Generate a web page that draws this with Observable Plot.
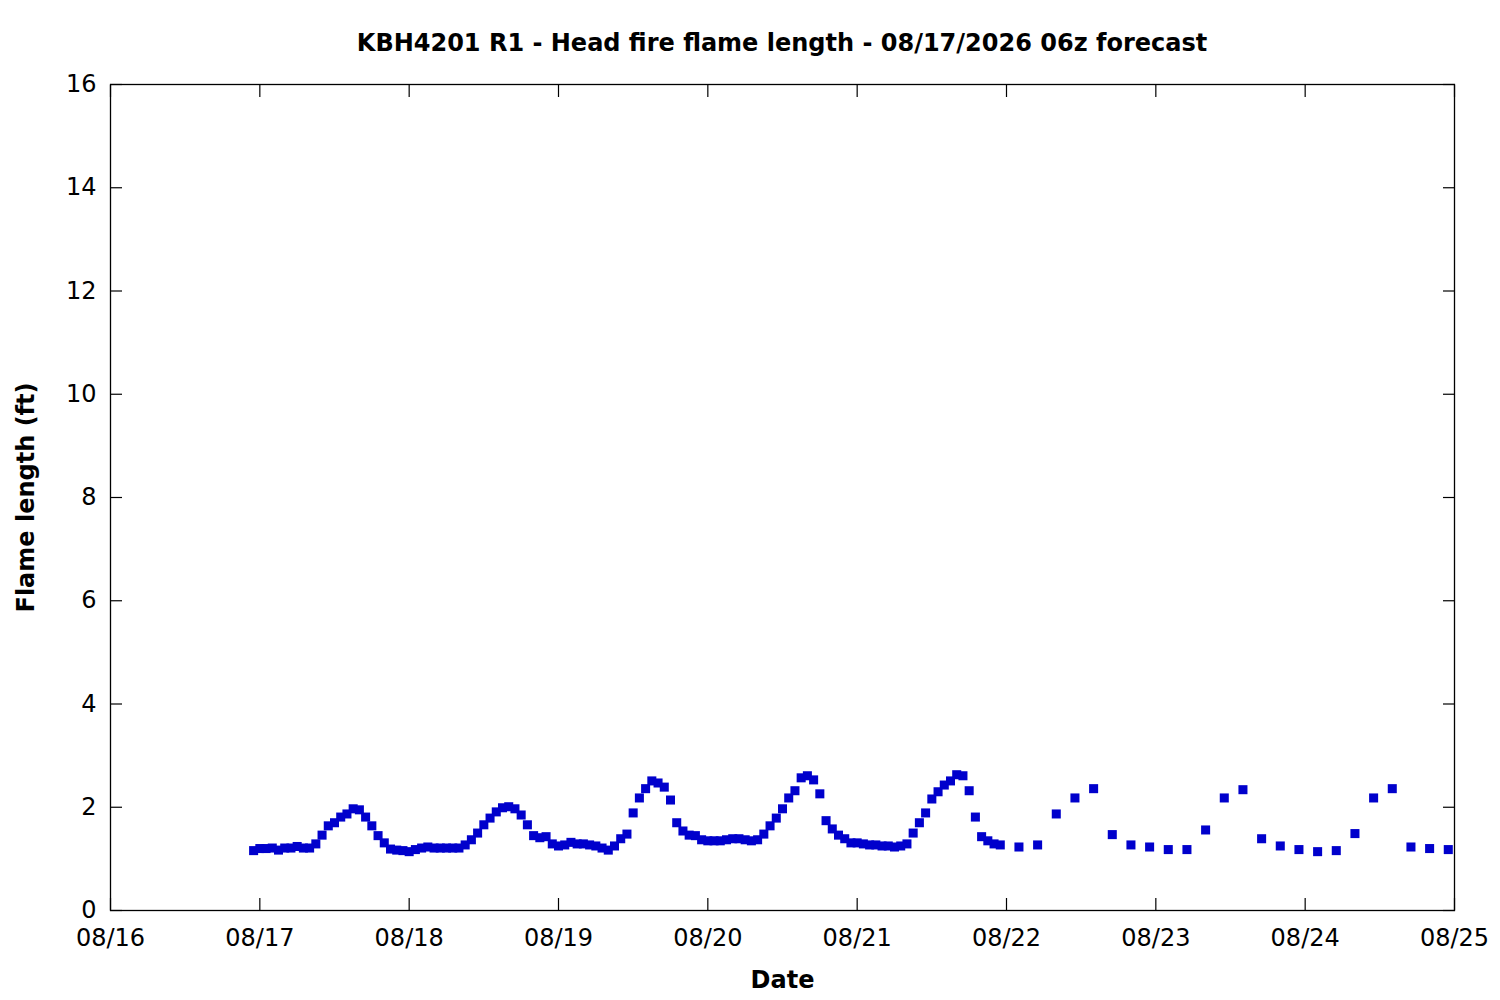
<!DOCTYPE html>
<html><head><meta charset="utf-8">
<script src="https://cdn.jsdelivr.net/npm/d3@7"></script>
<script src="https://cdn.jsdelivr.net/npm/@observablehq/plot@0.6"></script>
<style>
body{margin:0;background:#fff;font-family:"DejaVu Sans",sans-serif;}
#title{height:64px;box-sizing:border-box;padding:29px 46px 0 110px;text-align:center;font-weight:bold;font-size:24px;line-height:28px;color:#000;}
#chart svg{display:block;}
</style></head><body>
<div id="title">KBH4201 R1 - Head fire flame length - 08/17/2026 06z forecast</div>
<div id="chart"></div>
<script>
const titleText = "KBH4201 R1 - Head fire flame length - 08/17/2026 06z forecast";
const yLabel = "Flame length (ft)";
const xLabel = "Date";

// Hourly forecast: 08/16 23z through 08/21 23z
const hourlyStart = "2026-08-16T23:00:00Z";
const hourlyValues = [
  1.16,
  1.20,1.20,1.21,1.17,1.21,1.21,1.24,1.21,1.21,1.29,1.46,1.64,
  1.70,1.81,1.87,1.97,1.95,1.81,1.64,1.45,1.31,1.19,1.17,1.16,
  1.14,1.18,1.21,1.23,1.21,1.21,1.21,1.21,1.21,1.27,1.37,1.50,
  1.66,1.79,1.91,1.99,2.01,1.97,1.85,1.66,1.45,1.41,1.43,1.29,
  1.25,1.27,1.32,1.29,1.29,1.27,1.25,1.21,1.17,1.25,1.39,1.48,
  1.89,2.18,2.36,2.51,2.47,2.39,2.14,1.70,1.54,1.46,1.45,1.37,
  1.35,1.35,1.35,1.37,1.39,1.39,1.37,1.35,1.37,1.48,1.64,1.79,
  1.97,2.18,2.32,2.57,2.61,2.53,2.26,1.74,1.58,1.46,1.39,1.31,
  1.31,1.29,1.27,1.27,1.25,1.25,1.23,1.25,1.29,1.50,1.70,1.89,
  2.16,2.30,2.43,2.51,2.63,2.61,2.32,1.81,1.43,1.35,1.29,1.27
];
// 3-hourly forecast: 08/22 02z through 08/24 23z
const threeHourlyStart = "2026-08-22T02:00:00Z";
const threeHourlyValues = [
  1.23,1.27,1.87,2.18,2.36,1.47,1.27,1.23,
  1.18,1.18,1.56,2.18,2.34,1.39,1.25,1.18,
  1.14,1.16,1.49,2.18,2.36,1.23,1.20,1.18
];
const xTickLabels = ["08/16","08/17","08/18","08/19","08/20","08/21","08/22","08/23","08/24","08/25"];
const yTicks = [0,2,4,6,8,10,12,14,16];

const hourlyTimes = hourlyValues.map((_, i) => d3.utcHour.offset(new Date(hourlyStart), i));
const threeTimes = threeHourlyValues.map((_, i) => d3.utcHour.offset(new Date(threeHourlyStart), 3 * i));
const data = [
  ...hourlyValues.map((v, i) => ({time: hourlyTimes[i], value: v})),
  ...threeHourlyValues.map((v, i) => ({time: threeTimes[i], value: v}))
];
const xTicks = xTickLabels.map(s => new Date(`2026-${s.replace("/", "-")}T00:00:00Z`));
const fmt = d3.utcFormat("%m/%d");
const FS = 24;

const chart = Plot.plot({
  width: 1500,
  height: 936,
  marginTop: 20,
  marginBottom: 90,
  marginLeft: 110,
  marginRight: 46,
  style: {fontFamily: "DejaVu Sans, sans-serif", fontSize: FS + "px", color: "#000", background: "#fff"},
  x: {type: "utc", domain: [xTicks[0], xTicks[xTicks.length - 1]]},
  y: {domain: [0, 16]},
  marks: [
    Plot.frame({stroke: "#000", strokeWidth: 1.3}),
    Plot.axisX({anchor: "bottom", ticks: xTicks, tickSize: 0, tickPadding: 18, tickFormat: fmt, fontSize: FS, label: null}),
    Plot.axisX({anchor: "bottom", ticks: xTicks, tickSize: -12, tickFormat: () => "", label: null, strokeWidth: 1.2}),
    Plot.axisX({anchor: "top", ticks: xTicks, tickSize: -12, tickFormat: () => "", label: null, strokeWidth: 1.2}),
    Plot.axisY({anchor: "left", ticks: yTicks, tickSize: 0, tickPadding: 14, fontSize: FS, label: null}),
    Plot.axisY({anchor: "left", ticks: yTicks, tickSize: -12, tickFormat: () => "", label: null, strokeWidth: 1.2}),
    Plot.axisY({anchor: "right", ticks: yTicks, tickSize: -12, tickFormat: () => "", label: null, strokeWidth: 1.2}),
    Plot.text([yLabel], {frameAnchor: "left", dx: -84, rotate: -90, text: d => d, textAnchor: "middle", lineAnchor: "middle", fontWeight: "bold", fontSize: FS}),
    Plot.text([xLabel], {frameAnchor: "bottom", dy: 70, text: d => d, textAnchor: "middle", lineAnchor: "middle", fontWeight: "bold", fontSize: FS}),
    Plot.dot(data, {x: "time", y: "value", symbol: "square", r: 5.1, fill: "#0000cc", stroke: "none"})
  ]
});
document.getElementById("chart").appendChild(chart);
</script>
</body></html>
